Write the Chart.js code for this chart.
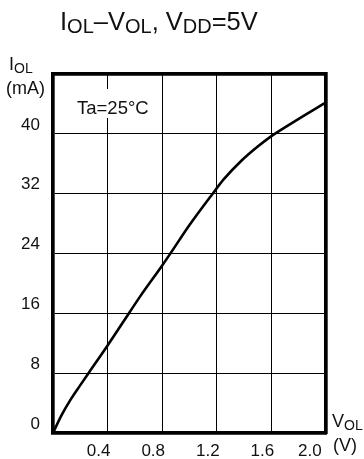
<!DOCTYPE html>
<html>
<head>
<meta charset="utf-8">
<script src="https://cdn.jsdelivr.net/npm/chart.js@4/dist/chart.umd.min.js"></script>
<style>
  html, body { margin: 0; padding: 0; background: #fff; }
  canvas { display: block; }
</style>
</head>
<body>
<canvas id="chart" width="364" height="459"></canvas>
<script>
// Output low-level current vs. output low-level voltage, VDD = 5 V, Ta = 25 °C
const voltages = [0, 0.06, 0.13, 0.2, 0.26, 0.4, 0.52, 0.64, 0.8, 0.86, 1.0, 1.17, 1.25, 1.38, 1.5, 1.6, 1.8, 2.0];
const currents = [0, 2.3, 4.5, 6.4, 8.0, 11.7, 15.0, 18.3, 22.4, 24.0, 27.8, 32.0, 33.9, 36.4, 38.3, 39.7, 42.0, 44.2];

const NBSP = '\u00A0';
const xTickLabels = ['', '0.4', '0.8', '1.2', '1.6', '2.0' + NBSP.repeat(3)];
const yTickLabels = ['0', '8', '16', '24', '32', '40', ''];

const FONT = '"Liberation Sans", Arial, Helvetica, sans-serif';
const INK = '#111';

// Draws a line of text made of runs, some of them set as subscripts
function drawRuns(ctx, x, baseline, runs) {
  ctx.save();
  ctx.fillStyle = INK;
  ctx.textAlign = 'left';
  ctx.textBaseline = 'alphabetic';
  for (const r of runs) {
    ctx.font = r.size + 'px ' + FONT;
    ctx.fillText(r.t, x, baseline + (r.dy || 0));
    x += ctx.measureText(r.t).width;
  }
  ctx.restore();
}

const annotations = {
  id: 'annotations',
  afterDraw(chart) {
    const ctx = chart.ctx;
    // Title
    drawRuns(ctx, 60, 30, [
      { t: 'I', size: 25.5 }, { t: 'OL', size: 20, dy: 3 },
      { t: '\u2013V', size: 25.5 }, { t: 'OL', size: 20, dy: 3 },
      { t: ', V', size: 25.5 }, { t: 'DD', size: 20, dy: 3 },
      { t: '=5V', size: 25.5 }
    ]);
    // Y axis title
    drawRuns(ctx, 9, 70, [{ t: 'I', size: 18 }, { t: 'OL', size: 14, dy: 2.5 }]);
    drawRuns(ctx, 6, 94, [{ t: '(mA)', size: 18 }]);
    // X axis title
    drawRuns(ctx, 332, 427, [{ t: 'V', size: 18 }, { t: 'OL', size: 14, dy: 2.5 }]);
    drawRuns(ctx, 333, 451, [{ t: '(V)', size: 18 }]);
    // Condition label on a white patch
    ctx.save();
    ctx.fillStyle = '#fff';
    ctx.fillRect(74, 89, 80, 29);
    ctx.restore();
    drawRuns(ctx, 77, 114, [{ t: 'Ta=25\u00B0C', size: 18.5 }]);
  }
};

const gridStyle = { color: '#000', lineWidth: 1, drawTicks: false };
const borderStyle = { display: true, color: '#000', width: 3.7 };

new Chart(document.getElementById('chart'), {
  type: 'line',
  data: {
    datasets: [{
      data: voltages.map((v, i) => ({ x: v, y: currents[i] })),
      borderColor: '#000',
      borderWidth: 2.6,
      pointRadius: 0,
      cubicInterpolationMode: 'monotone',
      fill: false,
      clip: false
    }]
  },
  options: {
    responsive: false,
    devicePixelRatio: 1,
    animation: false,
    events: [],
    layout: { padding: { left: 0, right: 38, top: 74, bottom: 0 } },
    plugins: { legend: { display: false }, tooltip: { enabled: false }, title: { display: false } },
    scales: {
      x: {
        type: 'linear', position: 'bottom', min: 0, max: 2,
        afterFit(s) { s.height = 26; },
        grid: gridStyle, border: borderStyle,
        ticks: {
          stepSize: 0.4, padding: 8, labelOffset: -9, maxRotation: 0, autoSkip: false,
          color: INK, font: { family: FONT, size: 17 },
          callback: (v, i) => xTickLabels[i]
        }
      },
      y: {
        type: 'linear', position: 'left', min: 0, max: 48,
        afterFit(s) { s.width = 53; },
        grid: gridStyle, border: borderStyle,
        ticks: {
          stepSize: 8, padding: 13, labelOffset: -9, autoSkip: false,
          color: INK, font: { family: FONT, size: 17 },
          callback: (v, i) => yTickLabels[i]
        }
      },
      xTop: {
        type: 'linear', position: 'top', min: 0, max: 2,
        afterFit(s) { s.height = 0; },
        grid: { display: false }, border: borderStyle, ticks: { display: false }
      },
      yRight: {
        type: 'linear', position: 'right', min: 0, max: 48,
        afterFit(s) { s.width = 0; },
        grid: { display: false }, border: borderStyle, ticks: { display: false }
      }
    }
  },
  plugins: [annotations]
});
</script>
</body>
</html>
